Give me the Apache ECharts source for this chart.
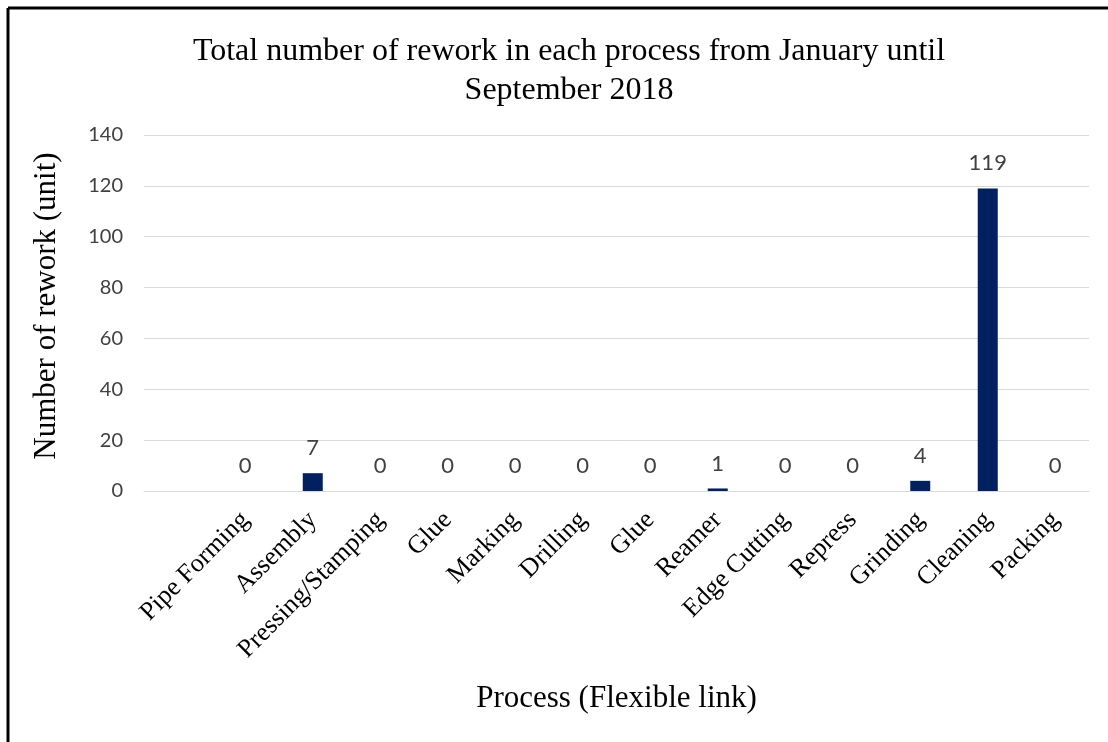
<!DOCTYPE html>
<html>
<head>
<meta charset="utf-8">
<script src="https://cdn.jsdelivr.net/npm/echarts@6/dist/echarts.min.js"></script>
<style>
  html, body { margin: 0; padding: 0; background: #fff; }
  #main { width: 1108px; height: 742px; }
</style>
</head>
<body>
<div id="main"></div>
<script>
// process names (first slot is blank in the source sheet)
var processes = ['', 'Pipe Forming', 'Assembly', 'Pressing/Stamping', 'Glue', 'Marking',
    'Drilling', 'Glue', 'Reamer', 'Edge Cutting', 'Repress', 'Grinding', 'Cleaning', 'Packing'];
var reworkCount = [null, 0, 7, 0, 0, 0, 0, 0, 1, 0, 0, 4, 119, 0];
var yTicks = { min: 0, max: 140, step: 20 };

var serif = '"Liberation Serif", "Times New Roman", serif';
var sans = 'Lato, "Open Sans", sans-serif';

var chart = echarts.init(document.getElementById('main'));

chart.setOption({
    animation: false,
    title: {
        text: 'Total number of rework in each process from January until\nSeptember 2018',
        left: 564,
        top: 27,
        textAlign: 'center',
        textStyle: {
            fontFamily: serif,
            fontWeight: 'normal',
            fontSize: 32,
            lineHeight: 39,
            color: '#000'
        }
    },
    grid: {
        left: 144,
        right: 19,
        top: 135,
        bottom: 251
    },
    xAxis: {
        type: 'category',
        data: processes,
        name: 'Process (Flexible link)',
        nameLocation: 'middle',
        nameGap: 192,
        nameTextStyle: { fontFamily: serif, fontSize: 31, color: '#000' },
        axisLine: { lineStyle: { color: '#d9d9d9', width: 1 } },
        axisTick: { show: false },
        axisLabel: {
            interval: 0,
            rotate: 45,
            margin: 25,
            fontFamily: serif,
            fontSize: 26,
            color: '#000'
        }
    },
    yAxis: {
        type: 'value',
        min: yTicks.min,
        max: yTicks.max,
        interval: yTicks.step,
        name: 'Number of rework (unit)',
        nameLocation: 'middle',
        nameGap: 82,
        nameTextStyle: { fontFamily: serif, fontSize: 31, color: '#000', padding: [0, 0, 0, 14] },
        axisLine: { show: false },
        axisTick: { show: false },
        axisLabel: { margin: 21, fontFamily: sans, fontSize: 20, color: '#404040' },
        splitLine: { lineStyle: { color: '#d9d9d9', width: 1 } }
    },
    series: [{
        type: 'bar',
        data: reworkCount,
        barWidth: 20,
        itemStyle: { color: '#002060' },
        label: {
            show: true,
            position: 'top',
            distance: 14,
            fontFamily: sans,
            fontSize: 22,
            color: '#404040'
        }
    }],
    graphic: [
        { type: 'line', shape: { x1: 8, y1: 8, x2: 1108, y2: 8 }, style: { stroke: '#000', lineWidth: 3 } },
        { type: 'line', shape: { x1: 8, y1: 8, x2: 8, y2: 742 }, style: { stroke: '#000', lineWidth: 3 } }
    ]
});
</script>
</body>
</html>
